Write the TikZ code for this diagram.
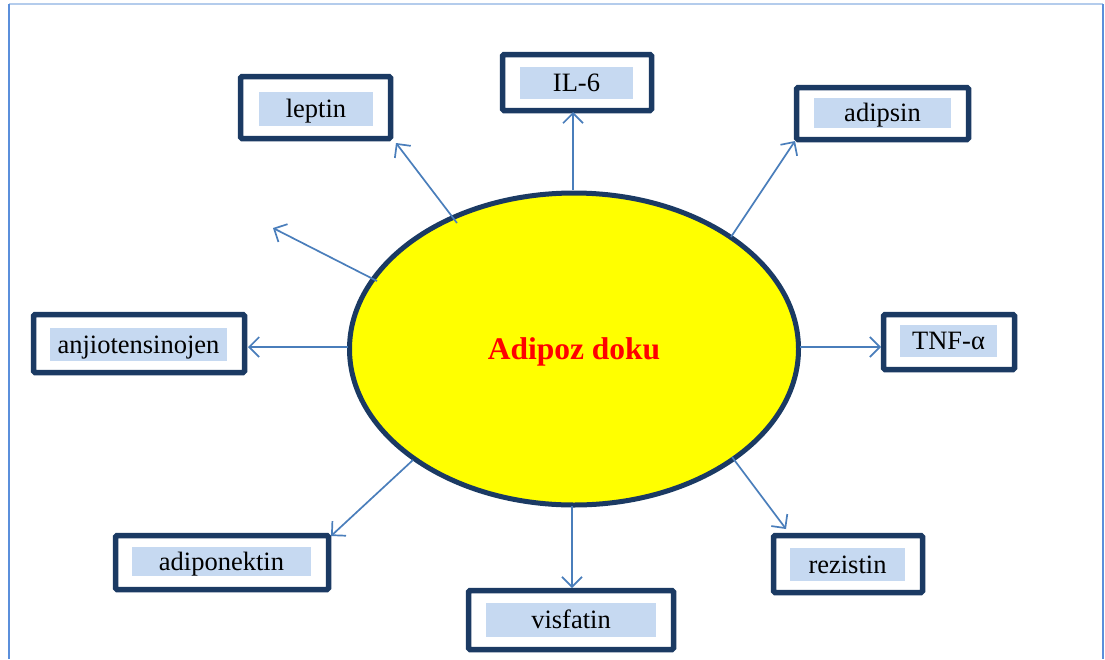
\documentclass[tikz,border=0pt]{standalone}
\usepackage{fontspec}
\setmainfont{Liberation Serif}
\usetikzlibrary{arrows.meta,shapes.geometric}
\definecolor{navy}{HTML}{1B3A63}
\definecolor{lblue}{HTML}{C6D9F1}
\definecolor{arr}{HTML}{4A7EBB}
\definecolor{frameA}{HTML}{B4CCEC}
\definecolor{frameB}{HTML}{5B8FDB}
\definecolor{tissueyellow}{HTML}{FFFF00}
\definecolor{tissuered}{HTML}{FF0000}
\begin{document}
\begin{tikzpicture}[x=1pt,y=-1pt,
  outerbox/.style={draw=navy, line width=5.5pt, rectangle, inner sep=0pt, rounded corners=1.5pt},
  labelbox/.style={fill=lblue, inner sep=0pt, font=\fontsize{26.5}{30}\selectfont, text=black, text height=20pt, text depth=3pt},
  conn/.style={draw=arr, line width=1.7pt, -{Straight Barb[length=10pt,width=20pt,line width=1.7pt]}}]
\useasboundingbox (0,0) rectangle (1105,659);
% frame
\draw[frameA, line width=2pt] (9,4) -- (1103,4);
\draw[frameB, line width=2pt] (9,4) -- (9,659);
\draw[frameB, line width=2pt] (1103,4) -- (1103,659);
% central ellipse
\node[ellipse, draw=navy, fill=tissueyellow, line width=5pt, minimum width=449pt, minimum height=312pt, inner sep=0pt,
      font=\fontsize{31.5}{34}\selectfont\bfseries, text=tissuered, text height=24pt, text depth=4pt] (tissue) at (574,349) {Adipoz doku};
% boxes
\node[outerbox, minimum width=150pt, minimum height=62pt] (lepbox) at (315.5,107.5) {};
\node[labelbox, minimum width=114pt, minimum height=34pt] (lep) at (316,109) {leptin};
\node[outerbox, minimum width=149pt, minimum height=56pt] (ilbox) at (577,82.5) {};
\node[labelbox, minimum width=113pt, minimum height=32pt] (il) at (576.5,83) {IL-6};
\node[outerbox, minimum width=172pt, minimum height=52pt] (adsbox) at (882.5,113.5) {};
\node[labelbox, minimum width=137pt, minimum height=30pt] (ads) at (882.5,113) {adipsin};
\node[outerbox, minimum width=211pt, minimum height=58pt] (anjbox) at (139,343.5) {};
\node[labelbox, minimum width=177pt, minimum height=33pt] (anj) at (138.5,344.5) {anjiotensinojen};
\node[outerbox, minimum width=131pt, minimum height=55pt] (tnfbox) at (949,342) {};
\node[labelbox, minimum width=97pt, minimum height=32pt] (tnf) at (948.5,341) {TNF-α};
\node[outerbox, minimum width=213pt, minimum height=54pt] (adpbox) at (222,562.5) {};
\node[labelbox, minimum width=179pt, minimum height=29pt] (adp) at (221.5,561.5) {adiponektin};
\node[outerbox, minimum width=205pt, minimum height=59pt] (visbox) at (571,620) {};
\node[labelbox, minimum width=170pt, minimum height=34pt] (vis) at (571,620) {visfatin};
\node[outerbox, minimum width=149pt, minimum height=57pt] (rezbox) at (848,564) {};
\node[labelbox, minimum width=115pt, minimum height=33pt] (rez) at (847.5,564.5) {rezistin};
% connector end points
\coordinate (s1) at (457,223); \coordinate (t1) at (396,143);
\coordinate (s2) at (377,281); \coordinate (t2) at (273,228);
\coordinate (s3) at (573,190); \coordinate (t3) at (573,112);
\coordinate (s4) at (731,237); \coordinate (t4) at (795,141);
\coordinate (s5) at (348,347); \coordinate (t5) at (248,347);
\coordinate (s6) at (800,347); \coordinate (t6) at (881,347);
\coordinate (s7) at (413,460); \coordinate (t7) at (331,536);
\coordinate (s8) at (572,506); \coordinate (t8) at (572,588);
\coordinate (s9) at (732,457); \coordinate (t9) at (786,529);
\draw[conn] (s1) -- (t1);
\draw[conn] (s2) -- (t2);
\draw[conn] (s3) -- (t3);
\draw[conn] (s4) -- (t4);
\draw[conn] (s5) -- (t5);
\draw[conn] (s6) -- (t6);
\draw[conn] (s7) -- (t7);
\draw[conn] (s8) -- (t8);
\draw[conn] (s9) -- (t9);
\end{tikzpicture}
\end{document}
